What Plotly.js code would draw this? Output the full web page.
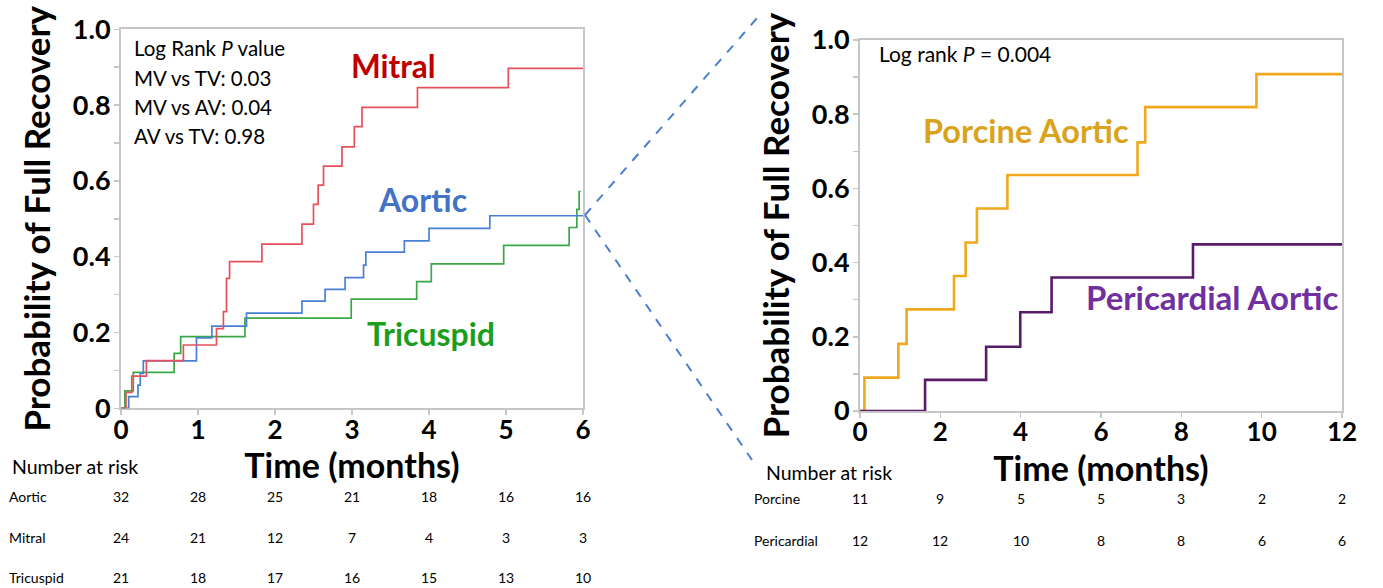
<!DOCTYPE html>
<html>
<head>
<meta charset="utf-8">
<script src="https://cdn.plot.ly/plotly-3.0.1.min.js"></script>
<style>html,body{margin:0;padding:0;background:#fff;}#chart{width:1383px;height:588px;}</style>
</head>
<body>
<div id="chart"></div>
<script>
// ---------- Data ----------
// Left panel: time in months, cumulative probability of full recovery
const mitralT = [0, 0.065, 0.14, 0.33, 0.81, 1.24, 1.33, 1.37, 1.41, 1.83, 2.35, 2.50, 2.56, 2.63, 2.87, 3.03, 3.13, 3.85, 5.03, 6.0];
const mitralP = [0, 0.042, 0.085, 0.126, 0.167, 0.210, 0.255, 0.343, 0.387, 0.433, 0.486, 0.538, 0.589, 0.639, 0.690, 0.743, 0.794, 0.846, 0.897, 0.897];

const aorticT = [0, 0.10, 0.22, 0.25, 0.29, 0.98, 1.18, 1.63, 2.35, 2.65, 2.91, 3.15, 3.18, 3.68, 4.00, 4.79, 6.0];
const aorticP = [0, 0.031, 0.061, 0.092, 0.125, 0.186, 0.217, 0.251, 0.283, 0.314, 0.345, 0.378, 0.412, 0.442, 0.475, 0.508, 0.508];

const tricuspidT = [0, 0.05, 0.16, 0.69, 0.775, 1.61, 2.99, 3.84, 4.03, 4.97, 5.82, 5.92, 5.95, 5.97];
const tricuspidP = [0, 0.046, 0.095, 0.145, 0.189, 0.238, 0.288, 0.334, 0.381, 0.430, 0.477, 0.525, 0.572, 0.572];

// Right panel
const porcineT = [0, 0.11, 0.955, 1.16, 2.34, 2.63, 2.91, 3.67, 6.91, 7.10, 9.87, 12];
const porcineP = [0, 0.090, 0.181, 0.274, 0.364, 0.454, 0.546, 0.636, 0.724, 0.819, 0.908, 0.908];

const pericardialT = [0, 1.62, 3.14, 3.99, 4.77, 8.29, 12];
const pericardialP = [0, 0.084, 0.173, 0.266, 0.360, 0.449, 0.449];

// Ticks
const yTickVals = [0, 0.2, 0.4, 0.6, 0.8, 1.0];
const yTickText = ['0', '0.2', '0.4', '0.6', '0.8', '1.0'];
const leftXTicks = [0, 1, 2, 3, 4, 5, 6];
const rightXTicks = [0, 2, 4, 6, 8, 10, 12];

// Number at risk tables
const leftRiskTimes = [0, 1, 2, 3, 4, 5, 6];
const leftRiskLabels = ['Aortic', 'Mitral', 'Tricuspid'];
const aorticRisk = [32, 28, 25, 21, 18, 16, 16];
const mitralRisk = [24, 21, 12, 7, 4, 3, 3];
const tricuspidRisk = [21, 18, 17, 16, 15, 13, 10];

const rightRiskTimes = [0, 2, 4, 6, 8, 10, 12];
const rightRiskLabels = ['Porcine', 'Pericardial'];
const porcineRisk = [11, 9, 5, 5, 3, 2, 2];
const pericardialRisk = [12, 12, 10, 8, 8, 6, 6];

// ---------- Layout helpers ----------
const W = 1383, H = 588;
const px = x => x / W;
const py = y => 1 - y / H;
const FONT = 'Lato, "Open Sans", "DejaVu Sans", sans-serif';
const GRAY = '#c6c6c6';

function stepTrace(t, p, color, width, xa, ya, name) {
  return {x: t, y: p, type: 'scatter', mode: 'lines', name: name,
          line: {shape: 'hv', color: color, width: width},
          xaxis: xa, yaxis: ya, cliponaxis: false, hoverinfo: 'x+y+name'};
}

const traces = [
  stepTrace(tricuspidT, tricuspidP, '#3aa846', 1.7, 'x', 'y', 'Tricuspid'),
  stepTrace(aorticT, aorticP, '#4a80d2', 1.7, 'x', 'y', 'Aortic'),
  stepTrace(mitralT, mitralP, '#e8505c', 1.7, 'x', 'y', 'Mitral'),
  stepTrace(porcineT, porcineP, '#f0a81c', 2.6, 'x2', 'y2', 'Porcine Aortic'),
  stepTrace(pericardialT, pericardialP, '#5a1a6a', 2.6, 'x2', 'y2', 'Pericardial Aortic')
];

function xAxis(domain, range, tickvals, titleText, standoff) {
  return {
    domain: domain, range: range, tickmode: 'array', tickvals: tickvals,
    ticks: 'outside', ticklen: 5, tickwidth: 1.5, tickcolor: GRAY,
    ticklabelstandoff: -8,
    showline: true, linecolor: GRAY, linewidth: 2, mirror: true,
    showgrid: false, zeroline: false, layer: 'below traces',
    tickfont: {family: FONT, size: 26, color: '#000', weight: 'bold'},
    title: {text: titleText, font: {family: FONT, size: 34, color: '#000', weight: 'bold'}, standoff: standoff},
    fixedrange: true
  };
}
function yAxis(domain, titleText, standoff) {
  return {
    domain: domain, range: [0, 1], tickmode: 'array', tickvals: yTickVals, ticktext: yTickText,
    ticks: 'outside', ticklen: 5, tickwidth: 1.5, tickcolor: GRAY,
    ticklabelstandoff: -2,
    minor: {dtick: 0.1, ticks: 'outside', ticklen: 5, tickwidth: 1.5, tickcolor: GRAY, showgrid: false},
    showline: true, linecolor: GRAY, linewidth: 2, mirror: true,
    showgrid: false, zeroline: false, layer: 'below traces',
    tickfont: {family: FONT, size: 27, color: '#000', weight: 'bold'},
    title: {text: titleText, font: {family: FONT, size: 35, color: '#000', weight: 'bold'}, standoff: standoff},
    fixedrange: true
  };
}

const annotations = [];
function txt(text, x, y, size, color, opts) {
  annotations.push(Object.assign({
    text: text, x: px(x), y: py(y), xref: 'paper', yref: 'paper',
    showarrow: false, xanchor: 'left', yanchor: 'middle',
    font: {family: FONT, size: size, color: color}
  }, opts || {}));
}
function bold(text, cx, cy, size, color) {
  txt(text, cx, cy, size, color, {xanchor: 'center', font: {family: FONT, size: size, color: color, weight: 'bold'}});
}

// Left panel in-plot text
txt('Log Rank <i>P</i> value', 132, 48, 20.5, '#000');
txt('MV vs TV: 0.03', 132, 78, 20.5, '#000');
txt('MV vs AV: 0.04', 132, 107, 20.5, '#000');
txt('AV vs TV: 0.98', 132, 136, 20.5, '#000');
bold('Mitral', 393, 66, 31.5, '#c00000');
bold('Aortic', 422, 200, 32, '#4472c4');
bold('Tricuspid', 431, 333, 32, '#1c9e1c');

// Right panel in-plot text
txt('Log rank <i>P</i> = 0.004', 877, 54, 21, '#000');
bold('Porcine Aortic', 1026, 131, 32.5, '#d9a31c');
bold('Pericardial Aortic', 1212, 297, 33, '#7030a0');

// Number at risk tables
txt('Number at risk', 10, 466, 19.5, '#000');
const leftRows = [aorticRisk, mitralRisk, tricuspidRisk];
const leftRowY = [496, 537, 577];
leftRows.forEach((row, i) => {
  txt(leftRiskLabels[i], 7, leftRowY[i], 14, '#000');
  row.forEach((n, j) => {
    annotations.push({text: String(n), x: leftRiskTimes[j], xref: 'x', y: py(leftRowY[i]), yref: 'paper',
      showarrow: false, xanchor: 'center', yanchor: 'middle', font: {family: FONT, size: 14, color: '#000'}});
  });
});

txt('Number at risk', 764, 473, 19.5, '#000');
const rightRows = [porcineRisk, pericardialRisk];
const rightRowY = [498, 540];
rightRows.forEach((row, i) => {
  txt(rightRiskLabels[i], 752, rightRowY[i], 14, '#000');
  row.forEach((n, j) => {
    annotations.push({text: String(n), x: rightRiskTimes[j], xref: 'x2', y: py(rightRowY[i]), yref: 'paper',
      showarrow: false, xanchor: 'center', yanchor: 'middle', font: {family: FONT, size: 14, color: '#000'}});
  });
});

// Zoom connector (dashed lines)
const shapes = [
  {type: 'line', xref: 'paper', yref: 'paper', x0: px(585), y0: py(215), x1: px(758), y1: py(17),
   line: {color: '#4a80d2', width: 2, dash: 'dash'}},
  {type: 'line', xref: 'paper', yref: 'paper', x0: px(585), y0: py(215), x1: px(752), y1: py(460),
   line: {color: '#4a80d2', width: 2, dash: 'dash'}}
];

const layout = {
  width: W, height: H,
  margin: {l: 0, r: 0, t: 0, b: 0},
  paper_bgcolor: '#fff', plot_bgcolor: '#fff',
  showlegend: false,
  font: {family: FONT, color: '#000'},
  xaxis: xAxis([px(121), px(583)], [0, 6], leftXTicks, 'Time (months)', 0),
  yaxis: yAxis([py(408.3), py(29.3)], 'Probability of Full Recovery', 12),
  xaxis2: Object.assign(xAxis([px(860), px(1342)], [0, 12], rightXTicks, 'Time (months)', 0), {anchor: 'y2'}),
  yaxis2: Object.assign(yAxis([py(411), py(40)], 'Probability of Full Recovery', 12), {anchor: 'x2'}),
  annotations: annotations,
  shapes: shapes
};
layout.xaxis.anchor = 'y';
layout.yaxis.anchor = 'x';

Plotly.newPlot('chart', traces, layout, {displayModeBar: false, staticPlot: true});
</script>
</body>
</html>
